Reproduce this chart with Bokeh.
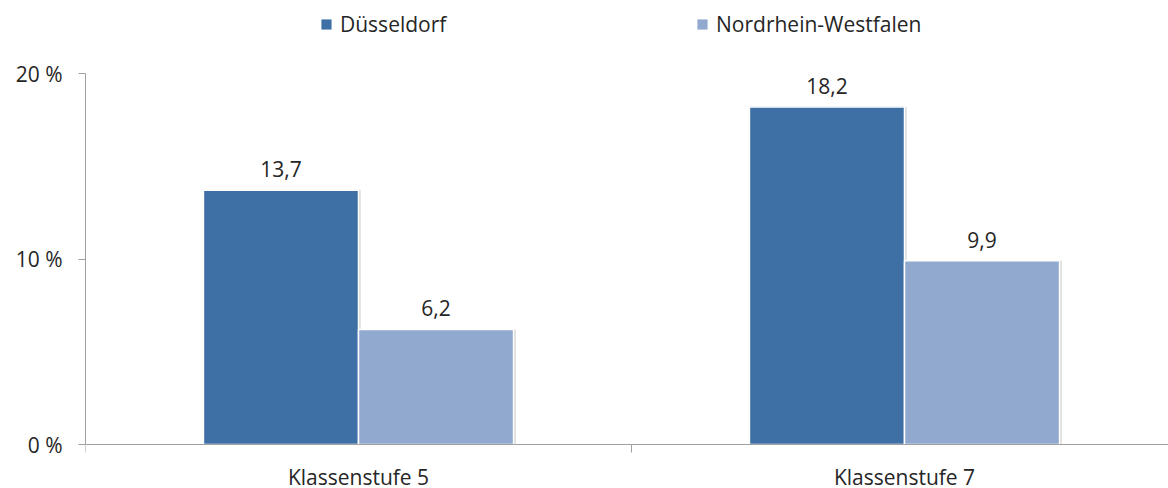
from bokeh.plotting import figure
from bokeh.models import (ColumnDataSource, Range1d, FixedTicker, LinearAxis,
                          Legend, LegendItem)
from bokeh.core.properties import value
from bokeh.embed import file_html
from bokeh.resources import INLINE

# ---- data ----
categories = ["Klassenstufe 5", "Klassenstufe 7"]
series_names = ["Düsseldorf", "Nordrhein-Westfalen"]
duesseldorf = [13.7, 18.2]
nrw = [6.2, 9.9]
y_ticks = [0, 10, 20]
y_tick_labels = ["0 %", "10 %", "20 %"]

# ---- styling ----
FONT = "Open Sans"
FSIZE = "21px"
TXT = "#262626"
AXIS = "#a0a0a0"
C1 = "#3e70a6"
C2 = "#91a9cf"

# layout (pixels)
W, H = 1168, 488
LEFT = 85
AXIS_Y = 444          # pixel row of the value 0
TOP_Y = 73            # pixel row of the value 20
YMAX = y_ticks[-1]
ppu = (AXIS_Y - TOP_Y) / YMAX
y_lo = -(H - AXIS_Y) / ppu
y_hi = YMAX + TOP_Y / ppu

n = len(categories)
cat_px = 546
x_hi = (W - LEFT) / cat_px
centers = [i + 0.5 for i in range(n)]
bar_w = 0.284
off = bar_w / 2

def fmt(v):
    return f"{v:.1f}".replace(".", ",")

src1 = ColumnDataSource(dict(x=[c - off for c in centers], top=duesseldorf,
                             lab=[fmt(v) for v in duesseldorf]))
src2 = ColumnDataSource(dict(x=[c + off for c in centers], top=nrw,
                             lab=[fmt(v) for v in nrw]))

p = figure(width=W, height=H, output_backend="svg", toolbar_location=None,
           x_range=Range1d(0, x_hi), y_range=Range1d(y_lo, y_hi),
           min_border_left=LEFT, min_border_right=0, min_border_top=0,
           min_border_bottom=0, x_axis_type=None, y_axis_type=None)
p.outline_line_color = None
p.xgrid.visible = False
p.ygrid.visible = False

# shadows
shadow = 0.004
p.vbar(x=[c - off + shadow for c in centers], top=duesseldorf, width=bar_w,
       fill_color="#d9d9d9", line_color=None)
p.vbar(x=[c + off + shadow for c in centers], top=nrw, width=bar_w,
       fill_color="#d9d9d9", line_color=None)

# solid underlays (also used as legend glyphs: solid squares)
l1 = p.vbar(x="x", top="top", width=bar_w, source=src1, fill_color=C1,
            line_color=C1, line_width=0.5)
l2 = p.vbar(x="x", top="top", width=bar_w, source=src2, fill_color=C2,
            line_color=C2, line_width=0.5)

r1 = p.vbar(x="x", top="top", width=bar_w, source=src1, fill_color=C1,
            line_color="white", line_width=1.5)
r2 = p.vbar(x="x", top="top", width=bar_w, source=src2, fill_color=C2,
            line_color="white", line_width=1.5)

for s in (src1, src2):
    p.text(x="x", y="top", text="lab", source=s, text_align="center",
           text_baseline="alphabetic", y_offset=-21,
           text_font=value(FONT), text_font_size=FSIZE, text_color=TXT)

# y axis
ya = LinearAxis(ticker=FixedTicker(ticks=y_ticks), bounds=(0, YMAX))
ya.major_label_overrides = {t: l for t, l in zip(y_ticks, y_tick_labels)}
ya.axis_line_color = AXIS
ya.major_tick_line_color = AXIS
ya.major_tick_out = 7
ya.major_tick_in = 0
ya.minor_tick_line_color = None
ya.major_label_standoff = 16
ya.major_label_text_font = FONT
ya.major_label_text_font_size = FSIZE
ya.major_label_text_color = TXT
p.add_layout(ya, "left")

# x axis, drawn at the value 0
xa = LinearAxis(ticker=FixedTicker(ticks=centers, minor_ticks=list(range(n + 1))),
                fixed_location=0)
xa.major_label_overrides = {c: l for c, l in zip(centers, categories)}
xa.axis_line_color = AXIS
xa.major_tick_line_color = None
xa.major_tick_out = 0
xa.major_tick_in = 0
xa.minor_tick_line_color = AXIS
xa.minor_tick_out = 8
xa.minor_tick_in = 0
xa.major_label_standoff = 10
xa.major_label_text_font = FONT
xa.major_label_text_font_size = FSIZE
xa.major_label_text_color = TXT
p.add_layout(xa, "below")

# legends (location = bottom-left corner, relative to frame bottom-left)
for r, name, lx in ((l1, series_names[0], 235), (l2, series_names[1], 611)):
    lg = Legend(items=[LegendItem(label=name, renderers=[r])],
                location=(lx, H - 38),
                orientation="horizontal", padding=0, margin=0, spacing=0,
                glyph_width=12, glyph_height=12, label_height=12,
                label_standoff=8, label_text_font=FONT,
                label_text_font_size=FSIZE, label_text_color=TXT,
                background_fill_alpha=0, border_line_color=None)
    p.add_layout(lg)

open("out.html", "w").write(file_html(p, INLINE))
